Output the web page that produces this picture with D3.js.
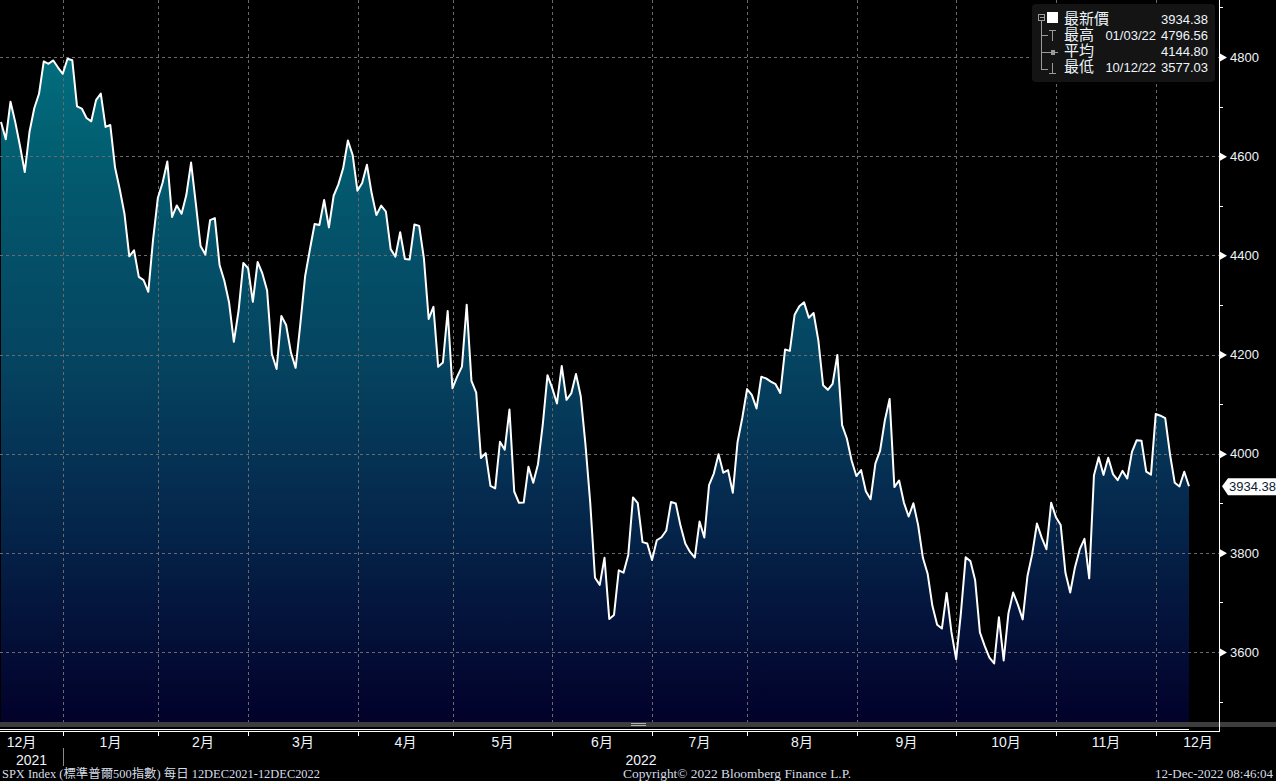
<!DOCTYPE html>
<html>
<head>
<meta charset="utf-8">
<script src="https://cdn.jsdelivr.net/npm/d3@7"></script>
<style>
  html, body { margin: 0; padding: 0; background: #000; }
  svg { display: block; }
  .grid line { stroke: #6a6a6a; stroke-width: 1; stroke-dasharray: 3,3; shape-rendering: crispEdges; }
  .lbl { fill: #eef4fa; font-family: "Liberation Sans", "Noto Sans CJK TC", sans-serif; }
  .foot { fill: #d6dde6; font-family: "Liberation Serif", "Noto Sans CJK TC", serif; font-size: 12px; }
</style>
</head>
<body>
<div id="chart"></div>
<script>
//
// SPX daily closes, 13 Dec 2021 - 9 Dec 2022 (Bloomberg GP style chart)
//

// trading months and the trading days inside each of them
var months = ["2021-12", "2022-01", "2022-02", "2022-03", "2022-04", "2022-05", "2022-06",
              "2022-07", "2022-08", "2022-09", "2022-10", "2022-11", "2022-12"];
var monthLabels = ["12月", "1月", "2月", "3月", "4月", "5月", "6月", "7月", "8月", "9月", "10月", "11月", "12月"];
var days = [
  [13,14,15,16,17,20,21,22,23,27,28,29,30,31],
  [3,4,5,6,7,10,11,12,13,14,18,19,20,21,24,25,26,27,28,31],
  [1,2,3,4,7,8,9,10,11,14,15,16,17,18,22,23,24,25,28],
  [1,2,3,4,7,8,9,10,11,14,15,16,17,18,21,22,23,24,25,28,29,30,31],
  [1,4,5,6,7,8,11,12,13,14,18,19,20,21,22,25,26,27,28,29],
  [2,3,4,5,6,9,10,11,12,13,16,17,18,19,20,23,24,25,26,27,31],
  [1,2,3,6,7,8,9,10,13,14,15,16,17,21,22,23,24,27,28,29,30],
  [1,5,6,7,8,11,12,13,14,15,18,19,20,21,22,25,26,27,28,29],
  [1,2,3,4,5,8,9,10,11,12,15,16,17,18,19,22,23,24,25,26,29,30,31],
  [1,2,6,7,8,9,12,13,14,15,16,19,20,21,22,23,26,27,28,29,30],
  [3,4,5,6,7,10,11,12,13,14,17,18,19,20,21,24,25,26,27,28,31],
  [1,2,3,4,7,8,9,10,11,14,15,16,17,18,21,22,23,25,28,29,30],
  [1,2,5,6,7,8,9]
];

// closing prices, one per trading day above
var closes = [
  4668.97,4634.09,4709.85,4668.67,4620.64,4568.02,4649.23,4696.56,4725.79,4791.19,4786.35,4793.06,4778.73,4766.18,
  4796.56,4793.54,4700.58,4696.05,4677.03,4670.29,4713.07,4726.35,4659.03,4662.85,4577.11,4532.76,4482.73,4397.94,4410.13,4356.45,4349.93,4326.51,4431.85,4515.55,
  4546.54,4589.38,4477.44,4500.53,4483.87,4521.54,4587.18,4504.08,4418.64,4401.67,4471.07,4475.01,4380.26,4348.87,4304.76,4225.50,4288.70,4384.65,4373.94,
  4306.26,4386.54,4363.49,4328.87,4201.09,4170.70,4277.88,4259.52,4204.31,4173.11,4262.45,4357.86,4411.67,4463.12,4461.18,4511.61,4456.24,4520.16,4543.06,4575.52,4631.60,4602.45,4530.41,
  4545.86,4582.64,4525.12,4481.15,4500.21,4488.28,4412.53,4397.45,4446.59,4392.59,4391.69,4462.21,4459.45,4393.66,4271.78,4296.12,4175.20,4183.96,4287.50,4131.93,
  4155.38,4175.48,4300.17,4146.87,4123.34,3991.24,4001.05,3935.18,3930.08,4023.89,4008.01,4088.85,3923.68,3900.79,3901.36,3973.75,3941.48,3978.73,4057.84,4158.24,4132.15,
  4101.23,4176.82,4108.54,4121.43,4160.68,4115.77,4017.82,3900.86,3749.63,3735.48,3789.99,3666.77,3674.84,3764.79,3759.89,3795.73,3911.74,3900.11,3821.55,3818.83,3785.38,
  3825.33,3831.39,3845.08,3902.62,3899.38,3854.43,3818.80,3801.78,3790.38,3863.16,3830.85,3936.69,3959.90,3998.95,3961.63,3966.84,3921.05,4023.61,4072.43,4130.29,
  4118.63,4091.19,4155.17,4151.94,4145.19,4140.06,4122.47,4210.24,4207.27,4280.15,4297.14,4305.20,4274.04,4283.74,4228.48,4137.99,4128.73,4140.77,4199.12,4057.66,4030.61,3986.16,3955.00,
  3966.85,3924.26,3908.19,3979.87,4006.18,4067.36,4110.41,3932.69,3946.01,3901.35,3873.33,3899.89,3855.93,3789.93,3757.99,3693.23,3655.04,3647.29,3719.04,3640.47,3585.62,
  3678.43,3790.93,3783.28,3744.52,3639.66,3612.39,3588.84,3577.03,3669.91,3583.07,3677.95,3719.98,3695.16,3665.78,3752.75,3797.34,3859.11,3830.60,3807.30,3901.06,3871.98,
  3856.10,3759.69,3719.89,3770.55,3806.80,3828.11,3748.57,3956.37,3992.93,3957.25,3991.73,3958.79,3946.56,3965.34,3949.94,4003.58,4027.26,4026.12,3963.94,3957.63,4080.11,
  4076.57,4071.70,3998.84,3941.26,3933.92,3963.51,3934.38
];

var yMajor = [3600, 3800, 4000, 4200, 4400, 4600, 4800];
var yMinor = [3500, 3700, 3900, 4100, 4300, 4500, 4700, 4900];
var years = ["2021", "2022"];

// legend rows (Bloomberg summary box)
var legendNames = ["最新價", "最高", "平均", "最低"];
var legendDates = ["", "01/03/22", "", "10/12/22"];
var legendValues = ["3934.38", "4796.56", "4144.80", "3577.03"];

var footLeft = "SPX Index (標準普爾500指數)  每日 12DEC2021-12DEC2022";
var footMid = "Copyright© 2022 Bloomberg Finance L.P.";
var footRight = "12-Dec-2022 08:46:04";

//
// build the series
//
var data = [];
var monthStart = [];
months.forEach(function(m, mi) {
  monthStart.push(data.length);
  days[mi].forEach(function(d) {
    data.push({date: m + "-" + (d < 10 ? "0" + d : d), close: closes[data.length]});
  });
});

var W = 1276, H = 781;
var plotBottom = 722, axisX = 1219;

var x = d3.scalePoint().domain(data.map(function(d) { return d.date; })).range([1, 1189]);
var y = d3.scaleLinear().domain([3600, 4800]).range([652, 57]);
var step = x.step();

var svg = d3.select("#chart").append("svg")
  .attr("width", W)
  .attr("height", H);

svg.append("rect").attr("width", W).attr("height", H).attr("fill", "#000");

var grad = svg.append("defs").append("linearGradient")
  .attr("id", "fillGrad")
  .attr("gradientUnits", "userSpaceOnUse")
  .attr("x1", 0).attr("y1", 0).attr("x2", 0).attr("y2", plotBottom);
[[0, "#007884"], [0.25, "#03596e"], [0.5, "#054460"], [0.68, "#052c50"], [0.85, "#04143c"], [1, "#02012a"]]
  .forEach(function(s) { grad.append("stop").attr("offset", s[0]).attr("stop-color", s[1]); });

// area under the price line
var area = d3.area()
  .x(function(d) { return x(d.date); })
  .y0(plotBottom)
  .y1(function(d) { return y(d.close); });

svg.append("path")
  .datum(data)
  .attr("d", area)
  .attr("fill", "url(#fillGrad)");

// month boundaries sit just before the first trading day of the month
var bounds = monthStart.slice(1).map(function(i) { return Math.round(x(data[i].date) - step * 0.95); });

var grid = svg.append("g").attr("class", "grid");
grid.selectAll(".h")
  .data(yMajor)
  .enter().append("line")
  .attr("x1", 0).attr("x2", axisX)
  .attr("y1", function(d) { return Math.round(y(d)) + 0.5; })
  .attr("y2", function(d) { return Math.round(y(d)) + 0.5; });
grid.selectAll(".v")
  .data(bounds)
  .enter().append("line")
  .attr("x1", function(d) { return d + 0.5; })
  .attr("x2", function(d) { return d + 0.5; })
  .attr("y1", 0).attr("y2", plotBottom);

// price line
var line = d3.line()
  .x(function(d) { return x(d.date); })
  .y(function(d) { return y(d.close); });

svg.append("path")
  .datum(data)
  .attr("d", line)
  .attr("fill", "none")
  .attr("stroke", "#fff")
  .attr("stroke-width", 2)
  .attr("stroke-linejoin", "round");

//
// bottom navigator strip and date axis
//
svg.append("rect").attr("x", 0).attr("y", plotBottom).attr("width", W).attr("height", 5).attr("fill", "#3d3d3d");
[723.5, 725.5].forEach(function(yy) {
  svg.append("line").attr("x1", 631).attr("x2", 646).attr("y1", yy).attr("y2", yy)
    .attr("stroke", "#b0b0b0").attr("stroke-width", 1);
});
svg.append("line").attr("x1", 0).attr("x2", 1189).attr("y1", 729.5).attr("y2", 729.5).attr("stroke", "#fff");
svg.append("line").attr("x1", 0).attr("x2", axisX).attr("y1", 731.5).attr("y2", 731.5).attr("stroke", "#fff");

svg.selectAll(".mtick")
  .data(bounds)
  .enter().append("line")
  .attr("x1", function(d) { return d + 0.5; })
  .attr("x2", function(d) { return d + 0.5; })
  .attr("y1", 731).attr("y2", 736)
  .attr("stroke", "#fff");

var edges = [-20].concat(bounds).concat([1240]);
svg.selectAll(".mlabel")
  .data(monthLabels)
  .enter().append("text")
  .attr("class", "lbl")
  .attr("x", function(d, i) { return (edges[i] + edges[i + 1]) / 2; })
  .attr("y", 747)
  .attr("text-anchor", "middle")
  .style("font-size", "14px")
  .text(function(d) { return d; });

var yearEdges = [0, bounds[0], axisX];
svg.selectAll(".ylabel")
  .data(years)
  .enter().append("text")
  .attr("class", "lbl")
  .attr("x", function(d, i) { return (yearEdges[i] + yearEdges[i + 1]) / 2; })
  .attr("y", 765)
  .attr("text-anchor", "middle")
  .style("font-size", "14px")
  .text(function(d) { return d; });

svg.append("line")
  .attr("x1", bounds[0] + 0.5).attr("x2", bounds[0] + 0.5)
  .attr("y1", 748).attr("y2", 766)
  .attr("stroke", "#8a8a8a");

//
// right value axis
//
svg.append("line")
  .attr("x1", axisX + 0.5).attr("x2", axisX + 0.5)
  .attr("y1", 0).attr("y2", 732)
  .attr("stroke", "#fff");

svg.selectAll(".minor")
  .data(yMinor.filter(function(d) { return y(d) > 0 && y(d) < plotBottom; }))
  .enter().append("line")
  .attr("x1", axisX).attr("x2", axisX + 4)
  .attr("y1", function(d) { return Math.round(y(d)) + 0.5; })
  .attr("y2", function(d) { return Math.round(y(d)) + 0.5; })
  .attr("stroke", "#fff");

var yAxis = svg.append("g")
  .attr("transform", "translate(" + (axisX + 1) + ",0)")
  .call(d3.axisRight(y).tickValues(yMajor).tickFormat(d3.format("d")).tickSize(0).tickPadding(10));
yAxis.select(".domain").remove();
yAxis.selectAll("text")
  .attr("class", "lbl")
  .attr("fill", null)
  .style("font-size", "13px")
  .style("font-family", "Liberation Sans, sans-serif");
yAxis.selectAll(".tick").append("path")
  .attr("d", "M0,-4L7,0L0,4Z")
  .attr("fill", "#fff");

// last price tag
var last = data[data.length - 1];
var ly = y(last.close);
svg.append("path")
  .attr("d", "M1222," + ly + "L1228," + (ly - 8) + "L1276," + (ly - 8) + "L1276," + (ly + 9) + "L1228," + (ly + 9) + "Z")
  .attr("fill", "#fff");
svg.append("text")
  .attr("x", 1229).attr("y", ly + 5)
  .attr("fill", "#0d1b33")
  .style("font-family", "Liberation Sans, sans-serif")
  .style("font-size", "13px")
  .text(last.close.toFixed(2));

//
// summary legend box
//
var lg = svg.append("g");
lg.append("rect")
  .attr("x", 1032).attr("y", 4).attr("width", 183).attr("height", 78)
  .attr("rx", 4).attr("fill", "#141414");

var rowY = [24, 40, 56, 72];
var tree = lg.append("g").attr("stroke", "#9a9a9a").attr("fill", "none").attr("shape-rendering", "crispEdges");
tree.append("rect").attr("x", 1038.5).attr("y", 14.5).attr("width", 6).attr("height", 6);
tree.append("line").attr("x1", 1039.5).attr("x2", 1043.5).attr("y1", 17.5).attr("y2", 17.5);
tree.append("line").attr("x1", 1041.5).attr("x2", 1041.5).attr("y1", 21).attr("y2", 69.5);
[35.5, 52.5, 69.5].forEach(function(yy) {
  tree.append("line").attr("x1", 1041.5).attr("x2", 1048).attr("y1", yy).attr("y2", yy);
});
// high / avg / low markers
tree.append("line").attr("x1", 1052.5).attr("x2", 1052.5).attr("y1", 30).attr("y2", 41);
tree.append("line").attr("x1", 1049).attr("x2", 1056).attr("y1", 30.5).attr("y2", 30.5);
tree.append("line").attr("x1", 1048).attr("x2", 1058).attr("y1", 52.5).attr("y2", 52.5);
tree.append("circle").attr("cx", 1053).attr("cy", 52.5).attr("r", 2).attr("fill", "#9a9a9a");
tree.append("line").attr("x1", 1052.5).attr("x2", 1052.5).attr("y1", 63).attr("y2", 74);
tree.append("line").attr("x1", 1049).attr("x2", 1056).attr("y1", 73.5).attr("y2", 73.5);
lg.append("rect").attr("x", 1047).attr("y", 12).attr("width", 11).attr("height", 11).attr("fill", "#fff");

lg.selectAll(".lname")
  .data(legendNames)
  .enter().append("text")
  .attr("class", "lbl")
  .attr("x", 1064)
  .attr("y", function(d, i) { return rowY[i]; })
  .style("font-size", "15px")
  .text(function(d) { return d; });
lg.selectAll(".ldate")
  .data(legendDates)
  .enter().append("text")
  .attr("class", "lbl")
  .attr("x", 1156)
  .attr("y", function(d, i) { return rowY[i]; })
  .attr("text-anchor", "end")
  .style("font-size", "13px")
  .text(function(d) { return d; });
lg.selectAll(".lval")
  .data(legendValues)
  .enter().append("text")
  .attr("class", "lbl")
  .attr("x", 1208)
  .attr("y", function(d, i) { return rowY[i]; })
  .attr("text-anchor", "end")
  .style("font-size", "13px")
  .text(function(d) { return d; });

//
// footer
//
svg.append("text").attr("class", "foot").attr("x", 2).attr("y", 778)
  .attr("textLength", 318).attr("lengthAdjust", "spacingAndGlyphs").text(footLeft);
svg.append("text").attr("class", "foot").attr("x", 623).attr("y", 778)
  .attr("textLength", 228).attr("lengthAdjust", "spacingAndGlyphs").text(footMid);
svg.append("text").attr("class", "foot").attr("x", 1155).attr("y", 778)
  .attr("textLength", 118).attr("lengthAdjust", "spacingAndGlyphs").text(footRight);
</script>
</body>
</html>
